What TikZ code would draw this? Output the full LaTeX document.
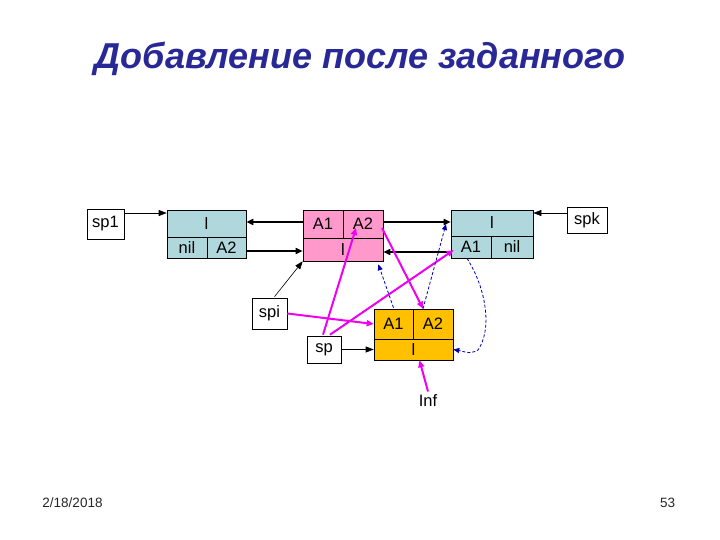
\documentclass[tikz,border=0pt]{standalone}
\usepackage{fontspec}
\setmainfont{Liberation Sans}
\usetikzlibrary{arrows.meta,calc}
\definecolor{lblue}{RGB}{176,216,220}
\definecolor{lpink}{RGB}{255,153,204}
\definecolor{lorange}{RGB}{255,192,0}
\definecolor{mag}{RGB}{240,0,240}
\definecolor{dblue}{RGB}{0,0,170}
\definecolor{titleblue}{RGB}{40,40,150}
\tikzset{
  cell/.style={draw,line width=0.6pt,inner sep=0pt,font=\fontsize{16.5}{16.5}\selectfont},
  ptr/.style={draw,line width=0.6pt,inner sep=0pt,fill=white,font=\fontsize{16.5}{16.5}\selectfont},
  thinarr/.style={line width=0.6pt,-{Triangle[length=8pt,width=6pt]}},
  thickarr/.style={line width=1.6pt,-{Triangle[length=7pt,width=6pt]}},
  magarr/.style={mag,line width=2pt,-{Triangle[length=7pt,width=6pt]}},
  bluearr/.style={dblue,line width=0.8pt,dash pattern=on 3pt off 2pt,-{Triangle[length=6pt,width=5pt]}},
}
\begin{document}
\begin{tikzpicture}[x=1pt,y=-1pt]
\useasboundingbox (0,0) rectangle (720,540);
% title
\node[font=\fontsize{36}{36}\selectfont\bfseries\itshape,text=titleblue] (title) at (360,59) {Добавление после заданного};
% node 1
\node[cell,fill=lblue,minimum width=79pt,minimum height=27pt] (n1t) at (206.5,223.5) {l};
\node[cell,fill=lblue,minimum width=40pt,minimum height=21pt] (n1a) at (187,247.5) {nil};
\node[cell,fill=lblue,minimum width=39pt,minimum height=21pt] (n1b) at (226.5,247.5) {A2};
% pink node
\node[cell,fill=lpink,minimum width=40pt,minimum height=28pt] (p1) at (323,224) {A1};
\node[cell,fill=lpink,minimum width=40pt,minimum height=28pt] (p2) at (363,224) {A2};
\node[cell,fill=lpink,minimum width=80pt,minimum height=23pt] (pb) at (343,249.5) {l};
% right node
\node[cell,fill=lblue,minimum width=82pt,minimum height=26pt] (rt) at (492,223) {l};
\node[cell,fill=lblue,minimum width=40pt,minimum height=22pt] (ra) at (471,247) {A1};
\node[cell,fill=lblue,minimum width=42pt,minimum height=22pt] (rb) at (512,247) {nil};
% orange node
\node[cell,fill=lorange,minimum width=39pt,minimum height=30pt] (o1) at (393.5,324) {A1};
\node[cell,fill=lorange,minimum width=40pt,minimum height=30pt] (o2) at (433,324) {A2};
\node[cell,fill=lorange,minimum width=79pt,minimum height=21pt] (ob) at (413.5,349.5) {l};
% pointer boxes
\node[ptr,minimum width=37pt,minimum height=30pt] (sp1) at (105.5,224) {sp1};
\node[ptr,minimum width=40pt,minimum height=26pt] (spk) at (587,220) {spk};
\node[ptr,minimum width=35pt,minimum height=31pt] (spi) at (269.5,313.5) {spi};
\node[ptr,minimum width=34pt,minimum height=27pt] (sp) at (324,349.5) {sp};
\node[font=\fontsize{16.5}{16.5}\selectfont] (inf) at (428,401) {Inf};
% footer
\node[font=\fontsize{13.5}{13.5}\selectfont,text=black!85] (date) at (72.5,503) {2/18/2018};
\node[font=\fontsize{13.5}{13.5}\selectfont,text=black!85] (num) at (667.5,503) {53};
% black arrows
\draw[thinarr] (sp1.east |- 0,213) -- (n1t.west |- 0,213);
\draw[thickarr] (p1.west |- 0,222) -- (n1t.east |- 0,222);
\draw[thickarr] (n1b.east |- 0,251) -- (pb.west |- 0,251);
\draw[thickarr] (p2.east |- 0,222) -- (rt.west |- 0,222);
\draw[thickarr] (ra.west |- 0,252) -- (pb.east |- 0,252);
\draw[thinarr] (spk.west |- 0,213) -- (rt.east |- 0,213);
\draw[thinarr] ($(spi.north)+(5,-1)$) -- (pb.south west);
\draw[thinarr] (sp.east) -- (ob.west);
% magenta arrows
\draw[magarr] ($(sp.north)+(-1,-1)$) -- (356,228);
\draw[magarr] (382,228) -- ($(o2.north)+(-10,0)$);
\draw[magarr] ($(sp.north)+(6,-1)$) -- ($(ra.west)+(3,3)$);
\draw[magarr] (spi.east) -- (o1.west);
\draw[magarr] (inf.north) -- ($(ob.south)+(6,0)$);
% blue dashed arrows
\draw[bluearr] ($(o1.north)+(0,-1)$) -- ($(pb.south east)+(-5,3)$);
\draw[bluearr] ($(o2.north)+(-10,0)$) -- (446,224);
\draw[bluearr] ($(ra.south)+(-4,0)$) .. controls (487,290) and (492,330) .. (478,350) .. controls (470,355) and (462,351) .. (ob.east);
\end{tikzpicture}
\end{document}
